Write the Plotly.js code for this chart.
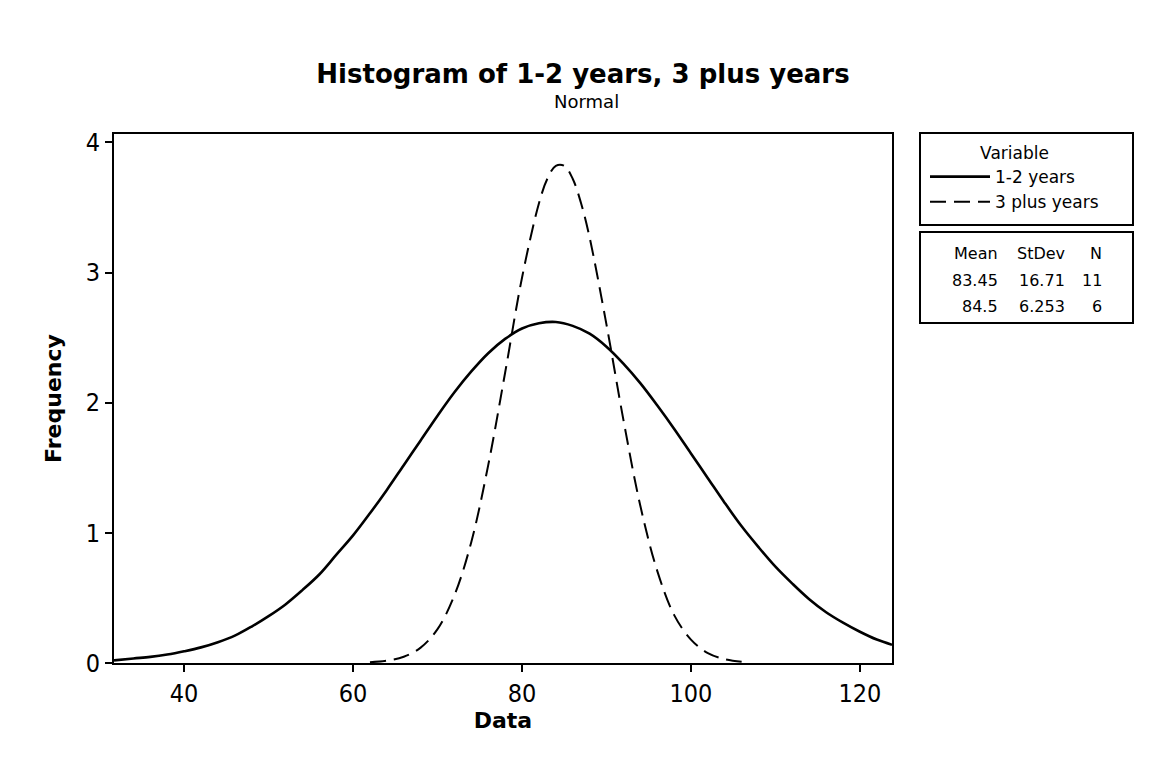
<!DOCTYPE html>
<html>
<head>
<meta charset="utf-8">
<script src="https://cdn.plot.ly/plotly-3.0.1.min.js"></script>
<style>html,body{margin:0;padding:0;background:#fff;}#chart{width:1154px;height:763px;}</style>
</head>
<body>
<div id="chart"></div>
<script>
// Fitted normal curves (Frequency vs Data)
var xSolid = [31.7, 34, 36, 38, 40, 42, 44, 46, 48, 50, 52, 54, 56, 58, 60, 62, 64, 66, 68, 70, 72, 74, 76, 78, 80, 82, 84, 86, 88, 90, 92, 94, 96, 98, 100, 102, 104, 106, 108, 110, 112, 114, 116, 118, 120, 122, 123.8];
var ySolid = [0.02, 0.035, 0.047, 0.065, 0.09, 0.12, 0.16, 0.21, 0.28, 0.36, 0.45, 0.56, 0.68, 0.83, 0.98, 1.15, 1.33, 1.52, 1.71, 1.90, 2.08, 2.24, 2.38, 2.49, 2.57, 2.61, 2.62, 2.59, 2.53, 2.43, 2.30, 2.15, 1.98, 1.80, 1.61, 1.42, 1.23, 1.05, 0.89, 0.74, 0.61, 0.49, 0.39, 0.31, 0.24, 0.18, 0.14];
var xDashed = [62, 64, 66, 68, 70, 72, 74, 76, 78, 80, 82, 83, 84, 85, 86, 87, 88, 90, 92, 94, 96, 98, 100, 102, 104, 106];
var yDashed = [0.006, 0.018, 0.048, 0.118, 0.26, 0.52, 0.93, 1.52, 2.23, 2.96, 3.53, 3.72, 3.82, 3.82, 3.72, 3.53, 3.27, 2.60, 1.87, 1.21, 0.71, 0.37, 0.18, 0.076, 0.030, 0.010];

var seriesNames = ["1-2 years", "3 plus years"];
var means = ["83.45", "84.5"];
var stdevs = ["16.71", "6.253"];
var counts = ["11", "6"];
var xTicks = [40, 60, 80, 100, 120];
var yTicks = [0, 1, 2, 3, 4];

var SANS = "'DejaVu Sans', Verdana, sans-serif";
var COND = "'DejaVu Sans Condensed', 'DejaVu Sans', sans-serif";

// plot area in pixels: left 114, right 892, top 134, bottom 663
function px(x) { return (x - 114) / 778; }
function py(y) { return (663 - y) / 529; }

var traces = [
  {x: xSolid, y: ySolid, name: seriesNames[0], mode: "lines", type: "scatter",
   line: {color: "#000", width: 2.6, shape: "spline"}},
  {x: xDashed, y: yDashed, name: seriesNames[1], mode: "lines", type: "scatter",
   line: {color: "#000", width: 2, dash: "16px,8px", shape: "spline"}}
];

var annotations = [
  {xref: "paper", yref: "paper", x: px(586), y: py(101), xanchor: "center", yanchor: "middle",
   text: "Normal", showarrow: false, font: {family: SANS, size: 18, color: "#000"}}
];
var cols = [{x: px(1000), h: "Mean", v: means}, {x: px(1067), h: "StDev", v: stdevs}, {x: px(1104), h: "N", v: counts}];
var rowsY = [py(253), py(280), py(306.5)];
cols.forEach(function (c) {
  annotations.push({xref: "paper", yref: "paper", x: c.x, y: rowsY[0], xanchor: "right", yanchor: "middle",
    text: c.h, showarrow: false, font: {family: SANS, size: 16, color: "#000"}});
  c.v.forEach(function (v, i) {
    annotations.push({xref: "paper", yref: "paper", x: c.x, y: rowsY[i + 1], xanchor: "right", yanchor: "middle",
      text: v, showarrow: false, font: {family: SANS, size: 16, color: "#000"}});
  });
});

var shapes = [
  {type: "rect", xref: "paper", yref: "paper", x0: px(920), x1: px(1133), y0: py(225), y1: py(133),
   line: {color: "#000", width: 2}, fillcolor: "rgba(255,255,255,1)", layer: "below"},
  {type: "rect", xref: "paper", yref: "paper", x0: px(920), x1: px(1133), y0: py(323), y1: py(232),
   line: {color: "#000", width: 2}, fillcolor: "rgba(255,255,255,1)", layer: "below"}
];

var layout = {
  width: 1154, height: 763,
  paper_bgcolor: "#fff", plot_bgcolor: "#fff",
  margin: {l: 114, r: 262, t: 134, b: 100},
  font: {family: SANS, color: "#000"},
  title: {
    text: "<b>Histogram of 1-2 years, 3 plus years</b>",
    font: {family: SANS, size: 26, color: "#000"},
    x: 583 / 1154, xref: "container", xanchor: "center",
    y: 1 - 74 / 763, yref: "container", yanchor: "middle"
  },
  xaxis: {
    range: [31.7, 123.8], tickvals: xTicks, ticktext: xTicks.map(String),
    ticks: "outside", ticklen: 7, tickwidth: 2, tickcolor: "#000",
    showline: true, linewidth: 2, linecolor: "#000", mirror: true,
    showgrid: false, zeroline: false,
    tickfont: {family: COND, size: 25, color: "#000"},
    title: {text: "<b>Data</b>", font: {family: SANS, size: 22, color: "#000"}, standoff: 2}
  },
  yaxis: {
    range: [0, 4.064], tickvals: yTicks, ticktext: yTicks.map(String),
    ticks: "outside", ticklen: 7, tickwidth: 2, tickcolor: "#000",
    showline: true, linewidth: 2, linecolor: "#000", mirror: true,
    showgrid: false, zeroline: false,
    tickfont: {family: COND, size: 25, color: "#000"},
    title: {text: "<b>Frequency</b>", font: {family: SANS, size: 22, color: "#000"}, standoff: 18}
  },
  showlegend: true,
  legend: {
    x: px(925), y: py(137), xanchor: "left", yanchor: "top",
    bgcolor: "rgba(0,0,0,0)", borderwidth: 0,
    font: {family: SANS, size: 17, color: "#000"},
    title: {text: "Variable", side: "top center", font: {family: SANS, size: 17, color: "#000"}},
    tracegroupgap: 2, itemwidth: 60
  },
  shapes: shapes,
  annotations: annotations
};

Plotly.newPlot("chart", traces, layout, {displayModeBar: false, staticPlot: true});
</script>
</body>
</html>
